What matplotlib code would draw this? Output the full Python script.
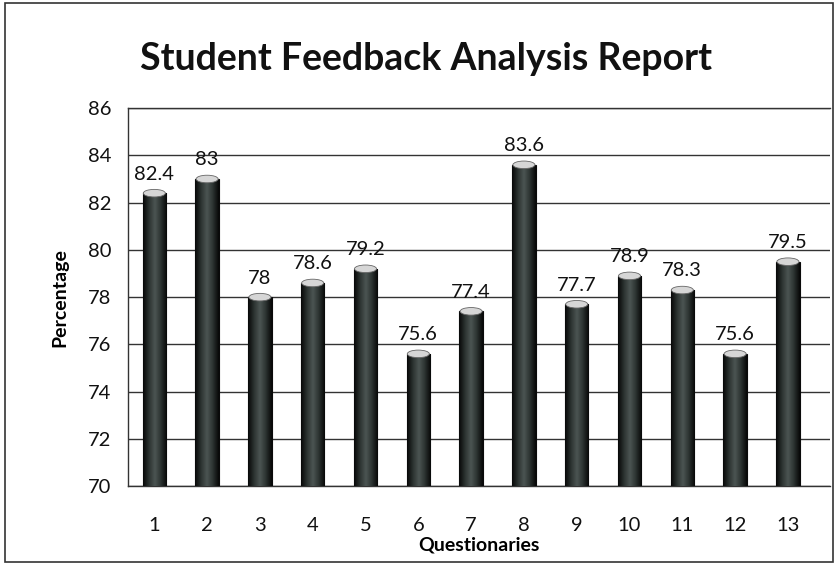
import numpy as np
import matplotlib
matplotlib.use('Agg')
import matplotlib.pyplot as plt
from matplotlib.patches import Ellipse, Rectangle
from matplotlib.colors import LinearSegmentedColormap

plt.rcParams['font.family'] = ['Lato', 'DejaVu Sans']

# ── Data ──
questions = ['1', '2', '3', '4', '5', '6', '7', '8', '9', '10', '11', '12', '13']
percentages = [82.4, 83, 78, 78.6, 79.2, 75.6, 77.4, 83.6, 77.7, 78.9, 78.3, 75.6, 79.5]
value_labels = ['82.4', '83', '78', '78.6', '79.2', '75.6', '77.4', '83.6', '77.7', '78.9', '78.3', '75.6', '79.5']
y_ticks = [70, 72, 74, 76, 78, 80, 82, 84, 86]

fig = plt.figure(figsize=(8.36, 5.66), dpi=100)
ax = fig.add_axes([0.153, 0.141, 0.84, 0.668])

# outer frame around the whole chart
fig.patches.append(Rectangle((0.006, 0.007), 0.99, 0.987, transform=fig.transFigure,
                             fill=False, edgecolor='#333333', linewidth=1.2))

x = np.arange(1, len(questions) + 1)
bar_w = 0.44
bars = ax.bar(x, np.array(percentages) - 70, bottom=70, width=bar_w,
              color='#2e3333', edgecolor='#0a0a0a', linewidth=0.8, zorder=3)

# cylinder-like shading on each bar
cyl = LinearSegmentedColormap.from_list('cyl', ['#070808', '#2c3331', '#4c5553', '#2c3331', '#070808'])
grad = np.linspace(0, 1, 64).reshape(1, -1)
for b in bars:
    x0, y0 = b.get_x(), b.get_y()
    im = ax.imshow(grad, cmap=cyl, aspect='auto', zorder=3.5,
                   extent=(x0, x0 + b.get_width(), y0, y0 + b.get_height()))
    im.set_clip_path(b)

# light top cap
for xi, v in zip(x, percentages):
    ax.add_patch(Ellipse((xi, v), bar_w * 0.95, 0.32, facecolor='#d6d6d6',
                         edgecolor='#666666', linewidth=0.6, zorder=4))

for xi, v, lab in zip(x, percentages, value_labels):
    ax.text(xi, v + 0.45, lab, ha='center', va='bottom', fontsize=14.5, color='#111111', zorder=5)

ax.set_xlim(0.5, 13.8)
ax.set_ylim(70, 86)
ax.set_yticks(y_ticks)
ax.set_xticks(x)
ax.set_xticklabels(questions)
ax.tick_params(axis='both', labelsize=14.5, length=0, colors='#111111')
ax.tick_params(axis='y', pad=12)
ax.tick_params(axis='x', pad=22)

ax.grid(axis='y', color='#333333', linewidth=1.0, zorder=0)
ax.set_axisbelow(True)
ax.spines['right'].set_visible(False)
for s in ['left', 'bottom', 'top']:
    ax.spines[s].set_color('#333333')
    ax.spines[s].set_linewidth(1.0)

ax.set_ylabel('Percentage', fontsize=14, fontweight='bold', labelpad=14)
ax.set_xlabel('Questionaries', fontsize=14, fontweight='bold', labelpad=2)
fig.text(0.51, 0.895, 'Student Feedback Analysis Report', ha='center', va='center',
         fontsize=27, fontweight='bold', color='#111111')

fig.savefig('out.png', dpi=100)
